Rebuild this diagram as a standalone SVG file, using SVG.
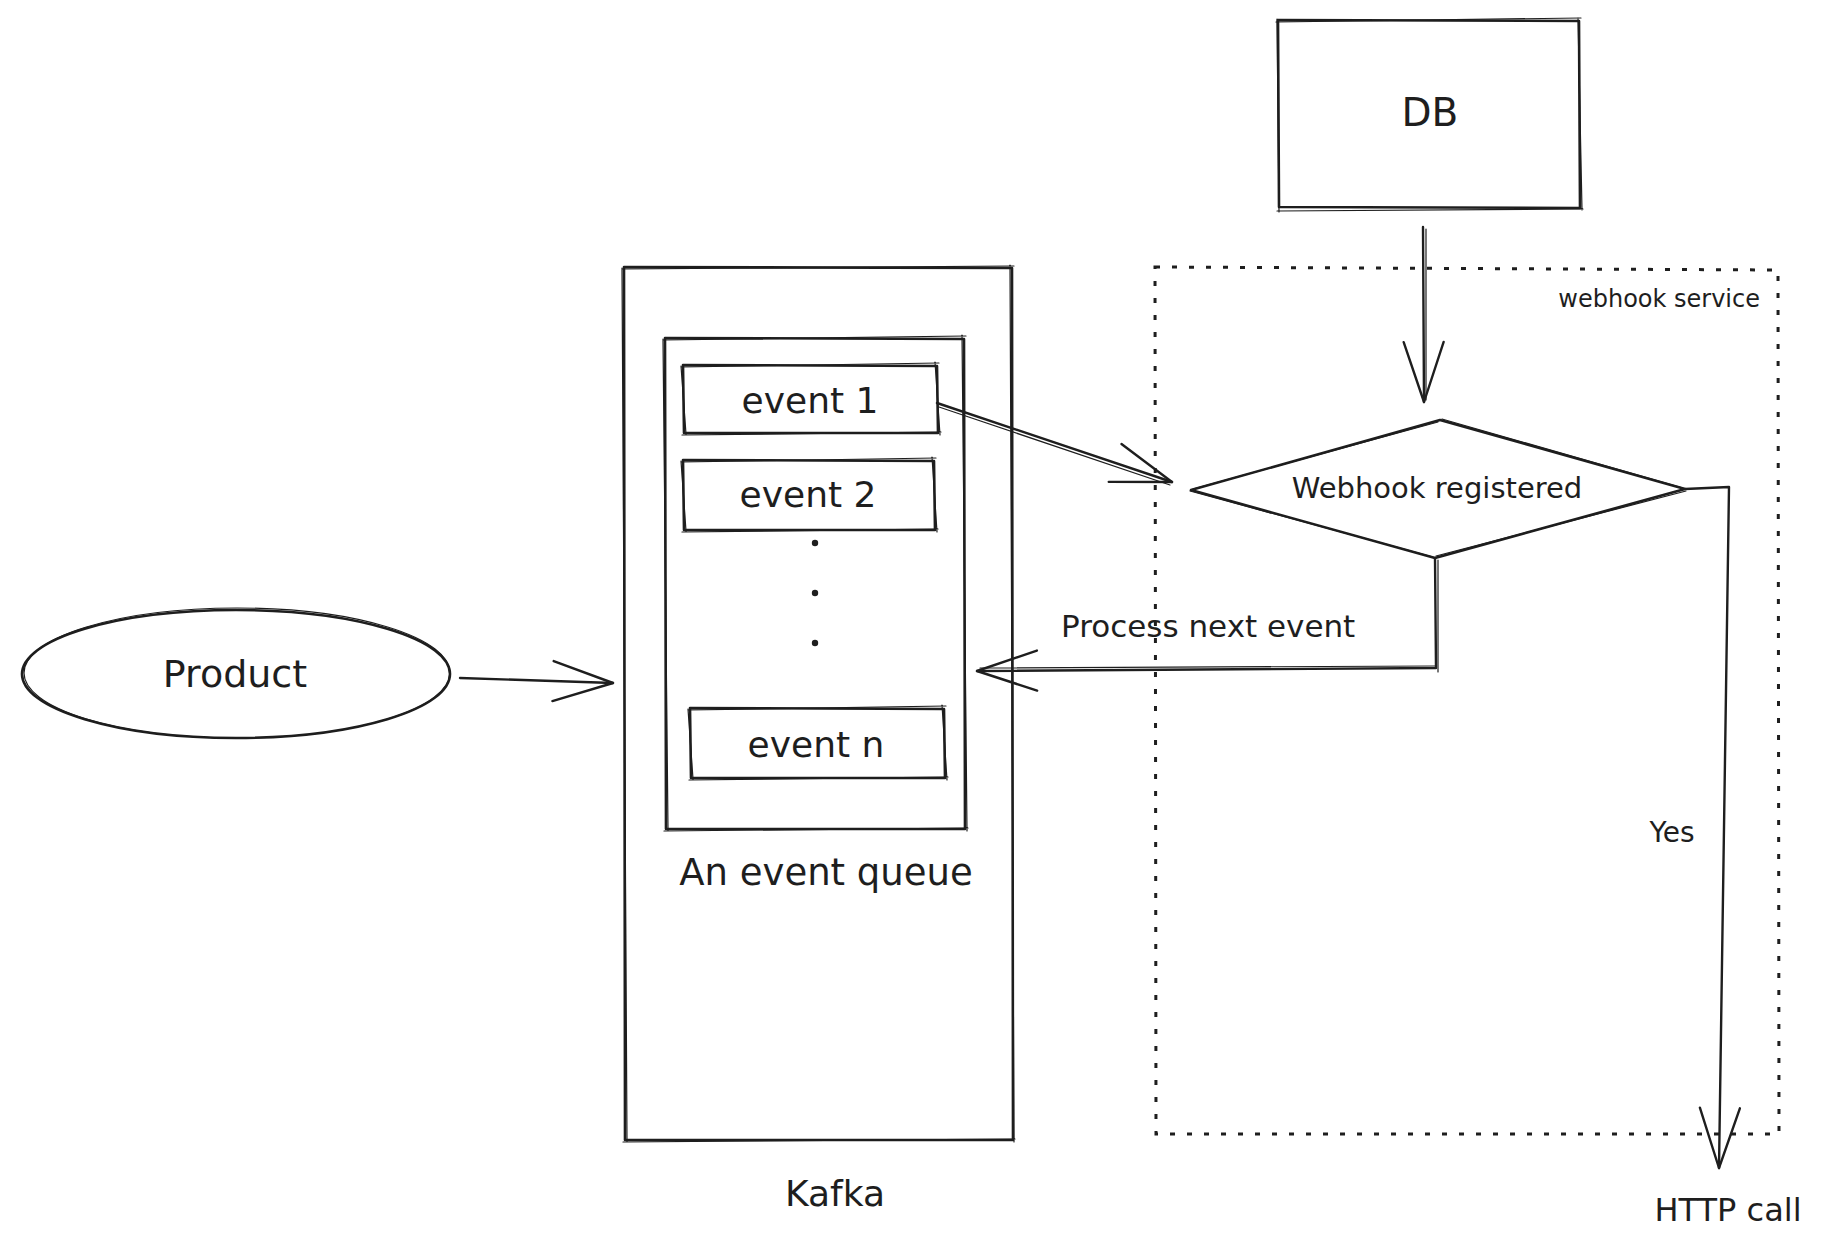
<svg xmlns="http://www.w3.org/2000/svg" width="1833" height="1249" viewBox="0 0 1833 1249">
<style>
.s{fill:none;stroke:#1e1e1e;stroke-width:2.6;stroke-linecap:round;stroke-linejoin:round}
.t{fill:none;stroke:#1e1e1e;stroke-width:1.2;stroke-linecap:round}
.c{fill:none;stroke:#1e1e1e;stroke-width:2.4;stroke-linecap:round;stroke-linejoin:round}
.d{fill:none;stroke:#1e1e1e;stroke-width:3;stroke-dasharray:5 12}
text{font-family:"DejaVu Sans","Liberation Sans",sans-serif;fill:#1e1e1e}
.m{text-anchor:middle}
</style>
<defs>
<marker id="ah" markerUnits="userSpaceOnUse" orient="auto" refX="0" refY="0" markerWidth="80" markerHeight="60" overflow="visible">
<path d="M-60,-20 L0,0 L-60,20" fill="none" stroke="#1e1e1e" stroke-width="2.4" stroke-linecap="round" stroke-linejoin="round"/>
</marker>
</defs>
<rect width="1833" height="1249" fill="#ffffff"/>

<g id="db">
<path class="s" d="M1278,20 L1579,21 L1580,208 L1279,207 Z"/>
<path class="t" d="M1276,22 L1581,18 M1578,18 L1582,210 M1583,209 L1277,211 M1279,212 L1277,19"/>
<text class="m" x="1430" y="126" font-size="39">DB</text>
</g>

<g id="kafka">
<path class="s" d="M624,267 L1012,268 L1013,1140 L625,1140 Z"/>
<path class="t" d="M622,269 L1014,266 M1010,265 L1014,1142 M1015,1139 L623,1142 M627,1141 L622,268"/>
<text class="m" x="835" y="1206" font-size="36">Kafka</text>
</g>

<g id="event-queue">
<path class="s" d="M665,338 L964,339 L965,829 L666,829 Z"/>
<path class="t" d="M663,340 L966,336 M962,335 L967,831 M968,828 L664,831 M668,830 L663,339"/>
<text class="m" x="826" y="885" font-size="37">An event queue</text>
</g>

<g id="event-1">
<path class="s" d="M683,365 L937,366 L938,433 L684,433 Z"/>
<path class="t" d="M681,367 L939,363 M935,362 L940,435 M941,432 L682,435 M686,434 L681,366"/>
<text class="m" x="810" y="413" font-size="36">event 1</text>
</g>

<g id="event-2">
<path class="s" d="M683,460 L934,461 L935,530 L684,530 Z"/>
<path class="t" d="M681,462 L936,458 M932,457 L937,532 M938,529 L682,532 M686,531 L681,461"/>
<text class="m" x="808" y="507" font-size="36">event 2</text>
</g>

<g id="ellipsis">
<circle cx="815" cy="543" r="3.2" fill="#1e1e1e"/>
<circle cx="815" cy="593" r="3.2" fill="#1e1e1e"/>
<circle cx="815" cy="643" r="3.2" fill="#1e1e1e"/>
</g>

<g id="event-n">
<path class="s" d="M690,708 L944,709 L945,778 L691,778 Z"/>
<path class="t" d="M688,710 L946,706 M942,705 L947,780 M948,777 L689,780 M693,779 L688,709"/>
<text class="m" x="816" y="757" font-size="36">event n</text>
</g>

<g id="product">
<ellipse class="s" cx="236" cy="674" rx="214" ry="64"/>
<ellipse class="t" cx="237" cy="673" rx="213" ry="65"/>
<text class="m" x="235" y="687" font-size="38">Product</text>
</g>

<g id="webhook-service">
<path class="d" d="M1155,267 L1778,270 L1779,1134 L1156,1134 Z"/>
<text x="1760" y="307" font-size="24" text-anchor="end">webhook service</text>
</g>

<g id="webhook-registered">
<path class="s" d="M1191,490 L1440,420 L1685,489 L1435,558 Z"/>
<path class="t" d="M1193,489 L1438,422 M1442,419 L1683,488 M1686,491 L1436,556 M1433,557 L1190,491"/>
<text class="m" x="1437" y="498" font-size="29">Webhook registered</text>
</g>

<g id="labels">
<text x="1061" y="637" font-size="31">Process next event</text>
<text class="m" x="1672" y="842" font-size="28">Yes</text>
<text class="m" x="1728" y="1221" font-size="32">HTTP call</text>
</g>

<g id="connectors">
<path class="c" d="M460,678 L613,683" marker-end="url(#ah)"/>
<path class="c" d="M937,403 L1172,482" marker-end="url(#ah)"/>
<path class="c" d="M1423,227 L1424,402" marker-end="url(#ah)"/>
<path class="c" d="M1435,558 L1436,668 L977,671" marker-end="url(#ah)"/>
<path class="c" d="M1685,489 L1729,487 L1719,1168" marker-end="url(#ah)"/>
<path class="t" d="M939,407 L1170,485 M1426,229 L1426,400 M1438,560 L1438,672 M1436,666 L980,668"/>
</g>
</svg>
